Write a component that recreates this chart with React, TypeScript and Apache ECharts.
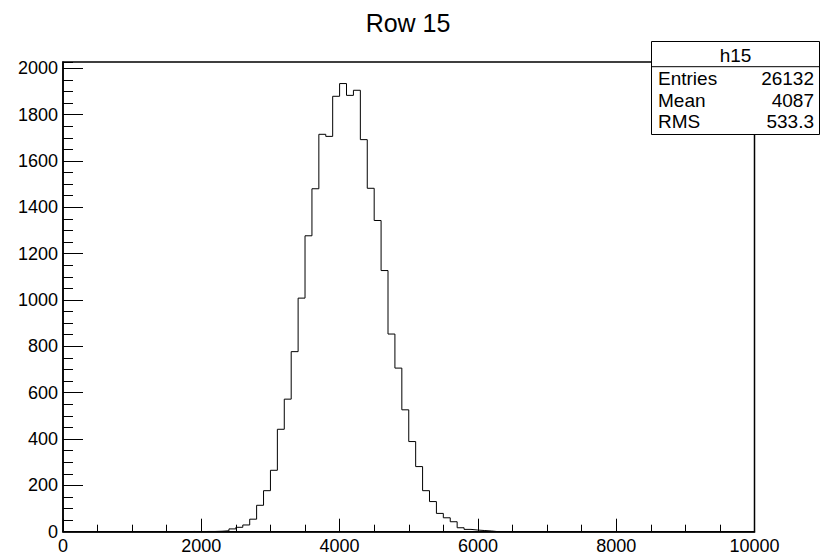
import React, { useEffect, useRef } from "react";
import * as echarts from "echarts";

// Histogram h15 : 100 bins of width 100 from 0 to 10000
const X_MIN = 0;
const X_MAX = 10000;
const BIN_WIDTH = 100;
const counts: number[] = [
  0, 0, 0, 0, 0, 0, 0, 0, 0, 0,
  0, 0, 0, 0, 0, 0, 0, 0, 1, 0,
  1, 1, 2, 4, 12, 19, 29, 54, 114, 177,
  265, 442, 572, 777, 1008, 1277, 1480, 1715, 1706, 1879,
  1934, 1883, 1905, 1692, 1482, 1343, 1127, 853, 706, 526,
  389, 281, 177, 130, 79, 60, 43, 17, 10, 7,
  5, 3, 0, 0, 0, 0, 0, 0, 0, 0,
  0, 0, 0, 0, 0, 0, 0, 0, 0, 0,
  0, 0, 0, 0, 0, 0, 0, 0, 0, 0,
  0, 0, 0, 0, 0, 0, 0, 0, 0, 0,
];
const Y_MAX = 2027;
const titleText = "Row 15";
const statsName = "h15";
const statsLabels = ["Entries", "Mean", "RMS"];
const statsValues = ["26132", "4087", "533.3"];

const FONT = "'Liberation Sans', Arial, Helvetica, sans-serif";

export default function App() {
  const ref = useRef<HTMLDivElement>(null);
  useEffect(() => {
    if (!ref.current) return;
    const chart = echarts.init(ref.current, undefined, { renderer: "svg" });
    const stepData: number[][] = counts.map((c, i) => [X_MIN + i * BIN_WIDTH, c]);
    stepData.push([X_MAX, 0]);

    const boxX = 651.5, boxY = 41.5, boxW = 168, boxH = 93;
    const rowsY = [78, 100, 121];
    const plain = (v: number) => String(v);

    chart.setOption({
      animation: false,
      backgroundColor: "#fff",
      grid: {
        left: 63, top: 62, right: 67.5, bottom: 24.3,
        show: true, borderColor: "#000", borderWidth: 1.5, backgroundColor: "transparent",
      },
      xAxis: {
        type: "value", min: X_MIN, max: X_MAX, interval: 2000,
        axisLine: { show: true, lineStyle: { color: "#000", width: 1.5 } },
        axisTick: { show: true, inside: true, length: 13, lineStyle: { color: "#000", width: 1 } },
        minorTick: { show: true, splitNumber: 4, length: 7, lineStyle: { color: "#000", width: 1 } },
        splitLine: { show: false },
        axisLabel: { color: "#000", fontSize: 18, fontFamily: FONT, margin: 5, formatter: plain },
      },
      yAxis: [
        {
          type: "value", min: 0, max: Y_MAX, interval: 200, position: "left",
          axisLine: { show: true, lineStyle: { color: "#000", width: 1.5 } },
          axisTick: { show: true, inside: true, length: 20, lineStyle: { color: "#000", width: 1 } },
          splitLine: { show: false },
          axisLabel: { color: "#000", fontSize: 18, fontFamily: FONT, margin: 5, showMaxLabel: false, formatter: plain },
        },
        {
          type: "value", min: 0, max: Y_MAX, interval: 50, position: "left",
          axisLine: { show: false },
          axisTick: { show: true, inside: true, length: 10, lineStyle: { color: "#000", width: 1 } },
          splitLine: { show: false },
          axisLabel: { show: false },
        },
      ],
      series: [
        {
          type: "line", step: "end", data: stepData, symbol: "none", showSymbol: false,
          xAxisIndex: 0, yAxisIndex: 0,
          lineStyle: { color: "#000", width: 1 }, silent: true,
        },
      ],
      graphic: [
        {
          type: "text", x: 408, y: 23, z: 10,
          style: { text: titleText, fill: "#000", font: `25px ${FONT}`, textAlign: "center", textVerticalAlign: "middle" },
        },
        {
          type: "rect", z: 10, shape: { x: boxX, y: boxY, width: boxW, height: boxH },
          style: { fill: "#fff", stroke: "#000", lineWidth: 1 },
        },
        {
          type: "line", z: 11, shape: { x1: boxX, y1: 66.7, x2: boxX + boxW, y2: 66.7 },
          style: { stroke: "#000", lineWidth: 1 },
        },
        {
          type: "text", x: boxX + boxW / 2, y: 55, z: 11,
          style: { text: statsName, fill: "#000", font: `19px ${FONT}`, textAlign: "center", textVerticalAlign: "middle" },
        },
        ...statsLabels.map((t, i) => ({
          type: "text", x: 658, y: rowsY[i], z: 11,
          style: { text: t, fill: "#000", font: `19px ${FONT}`, textAlign: "left", textVerticalAlign: "middle" },
        })),
        ...statsValues.map((t, i) => ({
          type: "text", x: 814, y: rowsY[i], z: 11,
          style: { text: t, fill: "#000", font: `19px ${FONT}`, textAlign: "right", textVerticalAlign: "middle" },
        })),
      ],
    });
    return () => chart.dispose();
  }, []);
  return (
    <div
      ref={ref}
      style={{ position: "fixed", left: 0, top: 0, width: 822, height: 556, background: "#fff" }}
    />
  );
}
